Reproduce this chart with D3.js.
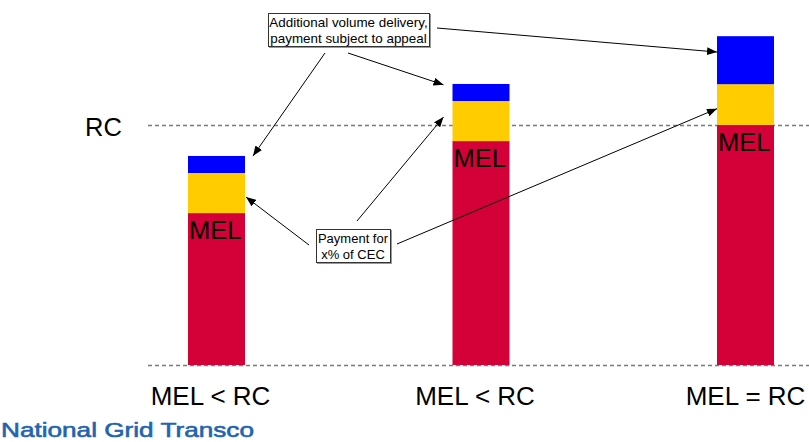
<!DOCTYPE html>
<html>
<head>
<meta charset="utf-8">
<script src="https://cdn.jsdelivr.net/npm/d3@7"></script>
<style>
  html, body { margin: 0; padding: 0; background: #fff; }
  svg { display: block; font-family: Arial, "Liberation Sans", sans-serif; }
</style>
</head>
<body>
<svg id="chart" width="809" height="442"></svg>
<script>
// Three delivery cases, each bar stacked: MEL, CEC payment band, additional volume
const categories = ["MEL < RC (a)", "MEL < RC (b)", "MEL = RC"];
const categoryLabels = ["MEL < RC", "MEL < RC", "MEL = RC"];
const melValues = [63.3, 93.3, 100];
const cecValues = [16.7, 16.7, 17];
const extraValues = [7.1, 7.1, 20];
const rcValue = 100;
const segmentNames = ["mel", "cec", "extra"];
const segmentColors = ["#d40038", "#ffcc00", "#0000ff"];

const svg = d3.select("#chart");

const x = d3.scalePoint().domain(categories).range([216.5, 745.5]);
const barW = 57;
const y = d3.scaleLinear().domain([0, rcValue]).range([365, 125]);

// arrowhead marker
svg.append("defs").append("marker")
  .attr("id", "head")
  .attr("viewBox", "0 0 10 8")
  .attr("refX", 10).attr("refY", 4)
  .attr("markerWidth", 10).attr("markerHeight", 8)
  .attr("markerUnits", "userSpaceOnUse")
  .attr("orient", "auto")
  .append("path").attr("d", "M0,0 L10,4 L0,8 Z").attr("fill", "#000");

// reference lines: zero and RC
[0, rcValue].forEach(v => {
  svg.append("line")
    .attr("x1", 148).attr("x2", 809)
    .attr("y1", Math.round(y(v)) + 0.5).attr("y2", Math.round(y(v)) + 0.5)
    .attr("stroke", "#7a7a7a").attr("stroke-width", 1.3)
    .attr("stroke-dasharray", "4,3");
});
svg.append("text").attr("x", 85).attr("y", 136)
  .attr("font-size", 25.5).attr("fill", "#000").text("RC");

// stacked bars
const rows = categories.map((c, i) => ({ cat: c, mel: melValues[i], cec: cecValues[i], extra: extraValues[i] }));
const stacked = d3.stack().keys(segmentNames)(rows);

svg.append("g").selectAll("g").data(stacked).join("g")
  .attr("fill", (d, i) => segmentColors[i])
  .selectAll("rect").data(d => d).join("rect")
  .attr("x", d => x(d.data.cat) - barW / 2)
  .attr("width", barW)
  .attr("y", d => y(d[1]))
  .attr("height", d => y(d[0]) - y(d[1]));

// MEL label inside the top of each red segment
svg.append("g").selectAll("text").data(rows).join("text")
  .attr("x", d => x(d.cat) - barW / 2 + 1)
  .attr("y", d => y(d.mel) + 26)
  .attr("font-size", 25.5).attr("fill", "#000")
  .text("MEL");

// category labels
svg.append("g").selectAll("text").data(categories).join("text")
  .attr("x", (d, i) => x(d) + (i < 2 ? -6 : 0))
  .attr("y", 405)
  .attr("text-anchor", "middle")
  .attr("font-size", 26).attr("fill", "#000")
  .text((d, i) => categoryLabels[i]);

// callout boxes
function callout(x0, y0, w, h, lines, fs, lh, firstBase) {
  const g = svg.append("g");
  g.append("rect").attr("x", x0 + 1.5).attr("y", y0 + 1.5).attr("width", w).attr("height", h)
    .attr("fill", "none").attr("stroke", "#999").attr("stroke-width", 1);
  g.append("rect").attr("x", x0 + 0.5).attr("y", y0 + 0.5).attr("width", w).attr("height", h)
    .attr("fill", "#fff").attr("stroke", "#333").attr("stroke-width", 1);
  lines.forEach((t, i) => g.append("text")
    .attr("x", x0 + w / 2).attr("y", y0 + firstBase + i * lh)
    .attr("text-anchor", "middle").attr("font-size", fs).attr("fill", "#000").text(t));
}
callout(268, 13, 161, 33, ["Additional volume delivery,", "payment subject to appeal"], 13.4, 16, 13.5);
callout(316, 229, 74, 33, ["Payment for", "x% of CEC"], 13, 16, 14);

// arrows from callouts to bar segments
function segY(i, key, f) {
  const s = stacked[segmentNames.indexOf(key)][i];
  return y(s[1]) + f * (y(s[0]) - y(s[1]));
}
const left = i => x(categories[i]) - barW / 2;
const right = i => x(categories[i]) + barW / 2;
const arrows = [
  [325, 53, right(0) + 8, segY(0, "extra", 0)],
  [348, 53, left(1) - 9, segY(1, "extra", 0.05)],
  [437, 28, left(2), segY(2, "extra", 0.33)],
  [309, 245, right(0) + 1, segY(0, "cec", 0.6)],
  [357, 221, left(1) - 9, segY(1, "cec", 0.4)],
  [397, 244, left(2), segY(2, "cec", 0.6)]
];
svg.append("g").selectAll("line").data(arrows).join("line")
  .attr("x1", d => d[0]).attr("y1", d => d[1])
  .attr("x2", d => d[2]).attr("y2", d => d[3])
  .attr("stroke", "#000").attr("stroke-width", 1)
  .attr("marker-end", "url(#head)");

// footer wordmark
svg.append("text").attr("x", 1).attr("y", 437)
  .attr("font-size", 21)
  .attr("fill", "#2264ae").attr("stroke", "#2264ae").attr("stroke-width", 0.6)
  .attr("textLength", 253).attr("lengthAdjust", "spacingAndGlyphs")
  .text("National Grid Transco");
</script>
</body>
</html>
